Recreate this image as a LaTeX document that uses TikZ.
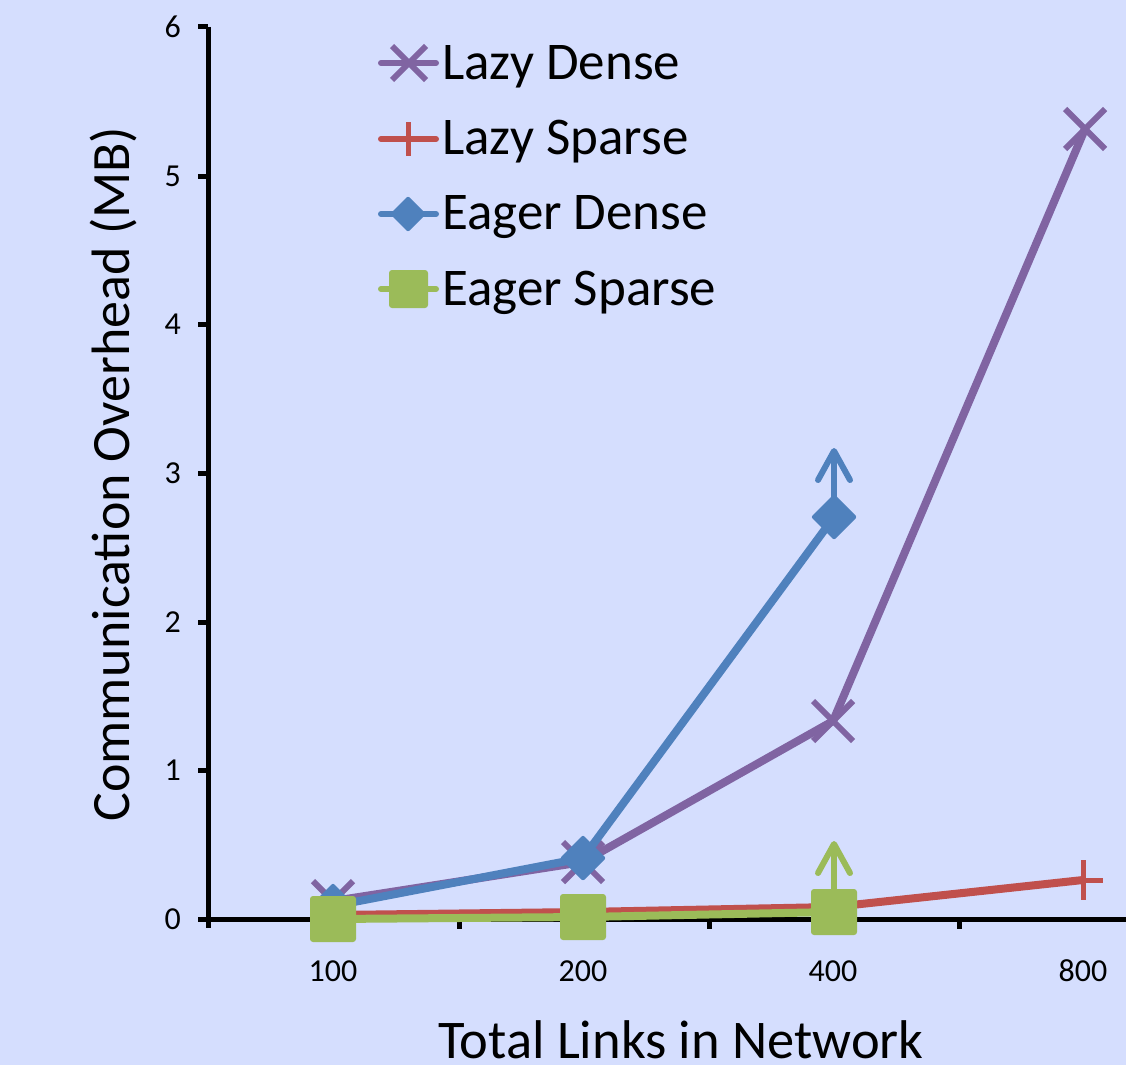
\documentclass[tikz,border=0pt]{standalone}
\usepackage{fontspec}
\setmainfont{Carlito}
\definecolor{bg}{RGB}{213,222,254}
\definecolor{cLD}{RGB}{128,100,162}
\definecolor{cLS}{RGB}{192,80,77}
\definecolor{cED}{RGB}{79,129,189}
\definecolor{cES}{RGB}{155,187,89}
\begin{document}
\begin{tikzpicture}[x=1pt,y=-1pt,
  axisline/.style={line width=5pt,black},
  series/.style={line width=8pt,line join=round},
  xmark/.style={line width=6pt,cLD},
  tickl/.style={font=\fontsize{32}{32}\selectfont,inner sep=0pt},
  legtext/.style={font=\fontsize{53}{53}\selectfont,anchor=base west,inner sep=0pt},
  uparrow/.style={line width=6pt,line cap=round,line join=round}]
\fill[bg] (0,0) rectangle (1126,1065);
\useasboundingbox (0,0) rectangle (1126,1065);
% axes
\draw[axisline] (208,27) -- (208,928);
\draw[axisline] (206,919) -- (1126,919);
\foreach \v/\y in {0/919,1/770,2/622,3/473,4/324,5/176,6/27}{
  \draw[axisline] (198,\y) -- (208,\y);
  \node[tickl,anchor=east] (yl\v) at (181,\y) {\v};
}
\foreach \x in {459,709,959}{\draw[axisline] (\x,919) -- (\x,929);}
\foreach \l/\x in {100/333,200/583,400/833,800/1083}{
  \node[tickl] (xl\l) at (\x,971) {\l};
}
\node[font=\fontsize{54.5}{54.5}\selectfont,inner sep=0pt,anchor=base] (xtitle) at (681,1058) {Total Links in Network};
\node[font=\fontsize{54}{54}\selectfont,inner sep=0pt,rotate=90] (ytitle) at (113,474) {Communication Overhead (MB)};
% data coordinates
\coordinate (ld1) at (333,901); \coordinate (ld2) at (583,862);
\coordinate (ld3) at (833,721); \coordinate (ld4) at (1085,129);
\coordinate (ls1) at (333,915); \coordinate (ls2) at (583,912);
\coordinate (ls3) at (833,907); \coordinate (ls4) at (1083,880);
\coordinate (ed1) at (333,906); \coordinate (ed2) at (583,858);
\coordinate (ed3) at (834,517);
\coordinate (es1) at (333,919); \coordinate (es2) at (583,917);
\coordinate (es3) at (834,912);
% Lazy Dense
\draw[series,cLD] (ld1) -- (ld2) -- (ld3) -- (ld4);
\foreach \p in {ld1,ld2,ld3,ld4}{
  \draw[xmark] ([shift={(-20,-20)}]\p) -- ([shift={(20,20)}]\p)
               ([shift={(-20,20)}]\p) -- ([shift={(20,-20)}]\p);
}
% Lazy Sparse
\draw[series,cLS] (ls1) -- (ls2) -- (ls3) -- (ls4);
\draw[line width=5pt,cLS] ([shift={(0,-20)}]ls4) -- ([shift={(0,20)}]ls4)
      ([shift={(-20,0)}]ls4) -- ([shift={(20,0)}]ls4);
% Eager Dense
\draw[series,cED] (ed1) -- (ed2) -- (ed3);
\draw[uparrow,cED] (ed3) -- (834,453);
\draw[uparrow,cED] (818,480) -- (834,451) -- (850,480);
\foreach \p in {ed1,ed2,ed3}{
  \fill[cED,rounded corners=2pt] ([shift={(-23,0)}]\p) -- ([shift={(0,-23)}]\p) -- ([shift={(23,0)}]\p) -- ([shift={(0,23)}]\p) -- cycle;
}
% Eager Sparse
\draw[series,cES] (es1) -- (es2) -- (es3);
\draw[uparrow,cES] (es3) -- (834,846);
\draw[uparrow,cES] (818,873) -- (834,844) -- (850,873);
\foreach \p in {es1,es2,es3}{
  \fill[cES,rounded corners=3pt] ([shift={(-23,-23)}]\p) rectangle ([shift={(23,23)}]\p);
}
% legend
\draw[line width=6pt,line cap=round,cLD] (381,63) -- (436,63);
\draw[line width=6pt,cLD] (392,46) -- (426,80) (392,80) -- (426,46);
\node[legtext] (lg1) at (442,79) {Lazy Dense};
\draw[line width=6pt,line cap=round,cLS] (381,139) -- (436,139);
\draw[line width=5pt,cLS] (408,122) -- (408,156);
\node[legtext] (lg2) at (442,154) {Lazy Sparse};
\draw[line width=6pt,line cap=round,cED] (381,214) -- (436,214);
\fill[cED,rounded corners=2pt] (390,214) -- (408,196) -- (426,214) -- (408,232) -- cycle;
\node[legtext] (lg3) at (442,229) {Eager Dense};
\draw[line width=6pt,line cap=round,cES] (381,289) -- (436,289);
\fill[cES,rounded corners=3pt] (389,270) rectangle (428,308);
\node[legtext] (lg4) at (442,305) {Eager Sparse};
\end{tikzpicture}
\end{document}
